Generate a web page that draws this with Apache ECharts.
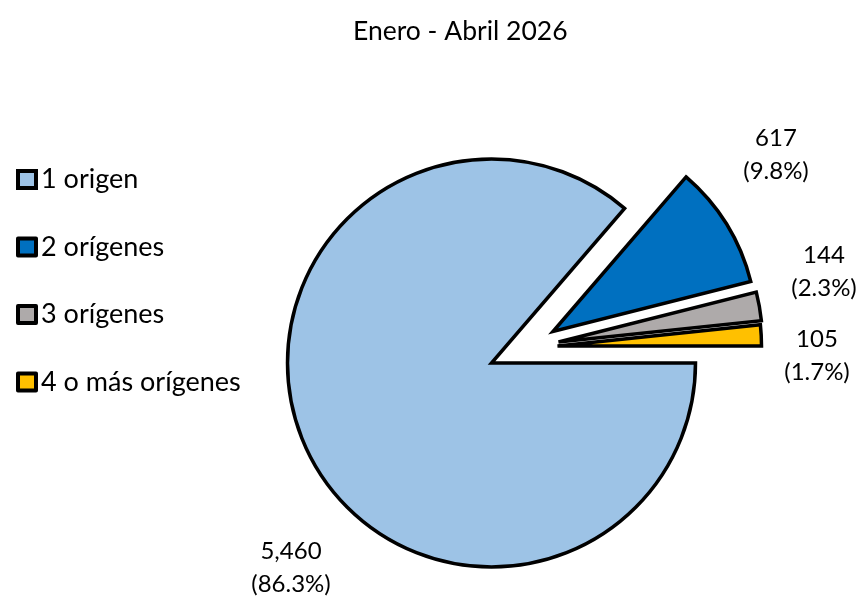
<!DOCTYPE html>
<html>
<head>
<meta charset="utf-8">
<script src="https://cdn.jsdelivr.net/npm/echarts@6/dist/echarts.min.js"></script>
<style>
  html, body { margin: 0; padding: 0; background: #fff; }
  #chart { width: 863px; height: 602px; }
</style>
</head>
<body>
<div id="chart"></div>
<script>
// ---- data ----
const titleText = 'Enero - Abril 2026';
const categories = ['1 origen', '2 orígenes', '3 orígenes', '4 o más orígenes'];
const values = [5460, 617, 144, 105];

// ---- styles ----
const FONT = 'Lato';
const colors = ['#9DC3E6', '#0070C0', '#AEAAAA', '#FFC000'];
const pieCenter = [491.5, 363];
const pieRadius = 204;
// explosion offsets (px) per slice
const explode = [[0, 0], [61.5, -31.5], [67, -21], [66, -17]];
// label block centres (px)
const labelPos = [[291, 568], [776, 155], [824, 272], [817, 356]];

const total = values.reduce((a, b) => a + b, 0);
function labelText(i) {
  return values[i].toLocaleString('en-US') + '\n(' + (values[i] / total * 100).toFixed(1) + '%)';
}

const series = categories.map((_, k) => ({
  type: 'pie',
  silent: true,
  animation: false,
  center: [pieCenter[0] + explode[k][0], pieCenter[1] + explode[k][1]],
  radius: pieRadius,
  startAngle: 0,
  clockwise: true,
  avoidLabelOverlap: false,
  labelLine: { show: false },
  labelLayout: function (p) {
    const pos = labelPos[p.dataIndex];
    return { x: pos[0], y: pos[1], align: 'center', verticalAlign: 'middle' };
  },
  data: categories.map((name, i) => ({
    name: name,
    value: values[i],
    itemStyle: i === k
      ? { color: colors[i], borderColor: '#000', borderWidth: 3.5, borderJoin: 'miter' }
      : { color: 'rgba(0,0,0,0)', borderWidth: 0 },
    label: i === k
      ? { show: true, position: 'inside', formatter: () => labelText(i),
          color: '#000', fontFamily: FONT, fontSize: 24, lineHeight: 33 }
      : { show: false }
  }))
}));

const chart = echarts.init(document.getElementById('chart'), null, { renderer: 'canvas' });
chart.setOption({
  animation: false,
  backgroundColor: '#fff',
  title: {
    text: titleText,
    left: 353,
    top: 18,
    padding: 0,
    textStyle: { fontFamily: FONT, fontSize: 26.5, fontWeight: 'normal', color: '#000' }
  },
  legend: {
    orient: 'vertical',
    left: 16,
    top: 166,
    padding: 0,
    itemWidth: 18,
    itemHeight: 17,
    itemGap: 40.5,
    icon: 'rect',
    selectedMode: false,
    textStyle: { fontFamily: FONT, fontSize: 27, lineHeight: 27, color: '#000' },
    data: categories.map((name, i) => ({
      name: name,
      itemStyle: { color: colors[i], borderColor: '#000', borderWidth: 4 }
    }))
  },
  series: series
});
</script>
</body>
</html>
